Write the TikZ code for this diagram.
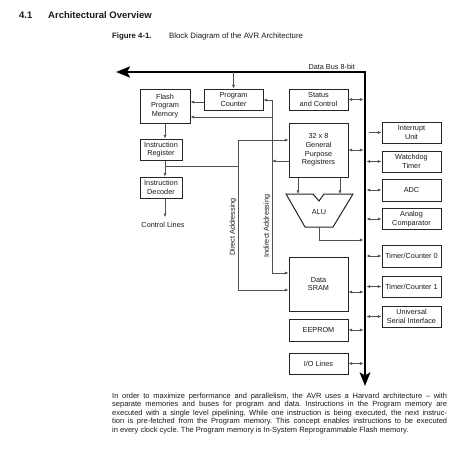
\documentclass[tikz,border=0pt]{standalone}
\usepackage{fontspec}
\setmainfont{Liberation Sans}
\usetikzlibrary{arrows.meta,calc}
\definecolor{boxc}{HTML}{262626}
\definecolor{linec}{HTML}{505050}
\definecolor{txt}{HTML}{1A1A1A}
\frenchspacing
\begin{document}
\begin{tikzpicture}[x=1pt,y=-1pt,
  box/.style={draw=boxc, line width=1pt, fill=white, inner sep=0pt, align=center,
    font=\fontsize{7.3}{8.3}\selectfont, text=txt},
  conn/.style={draw=linec, line width=0.6pt},
  arr/.style={conn, -{Latex[length=3.6pt,width=3pt]}},
  darr/.style={conn, {Latex[length=3.6pt,width=3pt]}-{Latex[length=3.6pt,width=3pt]}},
  bus/.style={draw=black, line width=2.5pt, line join=miter},
  lbl/.style={font=\fontsize{7.3}{8.3}\selectfont, text=txt, inner sep=0pt}]
\useasboundingbox[fill=white] (0,0) rectangle (471,463);

% headings
\node[anchor=base west, inner sep=0pt, text=txt, font=\fontsize{9.5}{11}\selectfont\bfseries] (secnum) at (19,19) {4.1};
\node[anchor=base west, inner sep=0pt, text=txt, font=\fontsize{9.5}{11}\selectfont\bfseries] (sectitle) at (48,19) {Architectural Overview};
\node[anchor=base west, inner sep=0pt, text=txt, font=\fontsize{7.8}{9}\selectfont\bfseries] (figlbl) at (112,38.5) {Figure 4-1.};
\node[anchor=base west, inner sep=0pt, text=txt, font=\fontsize{7.8}{9}\selectfont] (figtitle) at (169,38.5) {Block Diagram of the AVR Architecture};

% data bus
\coordinate (busL) at (116,72);
\coordinate (busC) at (365,72);
\coordinate (busB) at (365,386);
\draw[bus, {Stealth[length=14pt,width=11pt,inset=3pt]}-{Stealth[length=13.5pt,width=10.5pt,inset=3pt]}] (busL) -- (busC) -- (busB);
\node[lbl, anchor=base east] (buslbl) at (355,69.3) {Data Bus 8-bit};
\coordinate (bl) at (363.5,0);
\coordinate (br) at (366.5,0);

% left blocks
\node[box, minimum width=50pt, minimum height=34pt] (flash) at (165,106) {Flash\\Program\\Memory};
\node[box, minimum width=59pt, minimum height=21pt] (pc) at (233.5,99.5) {Program\\Counter};
\node[box, minimum width=59pt, minimum height=21pt] (status) at (318.5,99.5) {Status\\and Control};
\node[box, minimum width=59pt, minimum height=54pt, font=\fontsize{7.3}{8.6}\selectfont] (gpr) at (318.5,150) {32 x 8\\General\\Purpose\\Registrers};
\node[box, minimum width=42pt, minimum height=21pt] (ir) at (161,149.5) {Instruction\\Register};
\node[box, minimum width=42pt, minimum height=21pt] (dec) at (161,187.5) {Instruction\\Decoder};
\node[lbl] (ctrl) at (163,225) {Control Lines};
\node[box, minimum width=59pt, minimum height=54pt] (sram) at (318.5,284) {Data\\SRAM};
\node[box, minimum width=59pt, minimum height=22pt] (eeprom) at (318.5,330) {EEPROM};
\node[box, minimum width=59pt, minimum height=21pt] (io) at (318.5,363.5) {I/O Lines};

% right blocks
\node[box, minimum width=59pt, minimum height=21pt] (intu) at (411.5,132.5) {Interrupt\\Unit};
\node[box, minimum width=59pt, minimum height=21pt] (wdt) at (411.5,161.5) {Watchdog\\Timer};
\node[box, minimum width=59pt, minimum height=22pt] (adc) at (411.5,190) {ADC};
\node[box, minimum width=59pt, minimum height=21pt] (acomp) at (411.5,219) {Analog\\Comparator};
\node[box, minimum width=59pt, minimum height=22pt] (tc0) at (411.5,256) {Timer/Counter 0};
\node[box, minimum width=59pt, minimum height=21pt] (tc1) at (411.5,286.5) {Timer/Counter 1};
\node[box, minimum width=59pt, minimum height=21pt] (usi) at (411.5,316.5) {Universal\\Serial Interface};

% ALU
\draw[draw=boxc, line width=1pt, line join=miter] (286,194) -- (313,194) -- (319,201) -- (324,194) -- (353,194) -- (333,227) -- (305,227) -- cycle;
\node[lbl] (alu) at (319,212) {ALU};
\coordinate (aluA) at (298,194);
\coordinate (aluB) at (340,194);
\coordinate (aluO) at (319,227);
\coordinate (y240) at (0,240);

% helper coordinates
\coordinate (cx) at (165,0);
\coordinate (y102) at (0,102);
\coordinate (y117) at (0,117);
\coordinate (y161) at (0,161);
\coordinate (ind) at (272,100);
\coordinate (indb) at (272,273);
\coordinate (dir) at (238,140);
\coordinate (dirb) at (238,290);
\coordinate (irj) at (165,166.7);
\coordinate (y292) at (0,292);
\coordinate (intst) at (368.5,132.5);

% program side connectors
\draw[arr] (pc.north |- busC) -- (pc.north);
\draw[arr] (pc.west |- y102) -- (flash.east |- y102);
\draw[arr] (ind) -- (pc.east |- ind);
\draw[arr] (ind |- y117) -- (flash.east |- y117);
\draw[arr] (ind) -- (indb) -- (sram.west |- indb);
\draw[arr] (gpr.west |- y161) -- (ind |- y161);
\draw[arr] (dir) -- (gpr.west |- dir);
\draw[arr] (dir) -- (dirb) -- (sram.west |- dirb);
\draw[conn] (irj) -- (dir |- irj);
\draw[arr] (flash.south -| cx) -- (ir.north -| cx);
\draw[arr] (ir.south -| cx) -- (dec.north -| cx);
\draw[arr, shorten >=5pt] (dec.south -| cx) -- (ctrl.north -| cx);

% ALU connectors
\draw[arr] (gpr.south -| aluA) -- (aluA);
\draw[arr] (gpr.south -| aluB) -- (aluB);
\draw[arr] (aluO) -- (aluO |- y240) -- (bl |- y240);

% bus connectors, left
\draw[darr] (status.east) -- (status.east -| bl);
\draw[darr] (gpr.east) -- (gpr.east -| bl);
\draw[darr] (sram.east |- y292) -- (bl |- y292);
\draw[darr] (eeprom.east) -- (eeprom.east -| bl);
\draw[darr] (io.east) -- (io.east -| bl);

% bus connectors, right
\draw[arr] (intst) -- (intu.west);
\draw[darr] (wdt.west -| br) -- (wdt.west);
\draw[darr] (adc.west -| br) -- (adc.west);
\draw[darr] (acomp.west -| br) -- (acomp.west);
\draw[darr] (tc0.west -| br) -- (tc0.west);
\draw[darr] (tc1.west -| br) -- (tc1.west);
\draw[darr] (usi.west -| br) -- (usi.west);

% addressing labels
\node[lbl, rotate=90] (dirlbl) at (233,227) {Direct Addressing};
\node[lbl, rotate=90] (indlbl) at (267,226) {Indirect Addressing};

% paragraph
\node[anchor=north west, inner sep=0pt, text width=335pt, align=justify, text=txt,
  font=\fontsize{7.5}{8.5}\selectfont] (para) at (112,392.5)
{In order to maximize performance and parallelism, the AVR uses a Harvard architecture – with\linebreak
separate memories and buses for program and data. Instructions in the Program memory are\linebreak
executed with a single level pipelining. While one instruction is being executed, the next instruc-\linebreak
tion is pre-fetched from the Program memory. This concept enables instructions to be executed\linebreak
in every clock cycle. The Program memory is In-System Reprogrammable Flash memory.};
\end{tikzpicture}
\end{document}
